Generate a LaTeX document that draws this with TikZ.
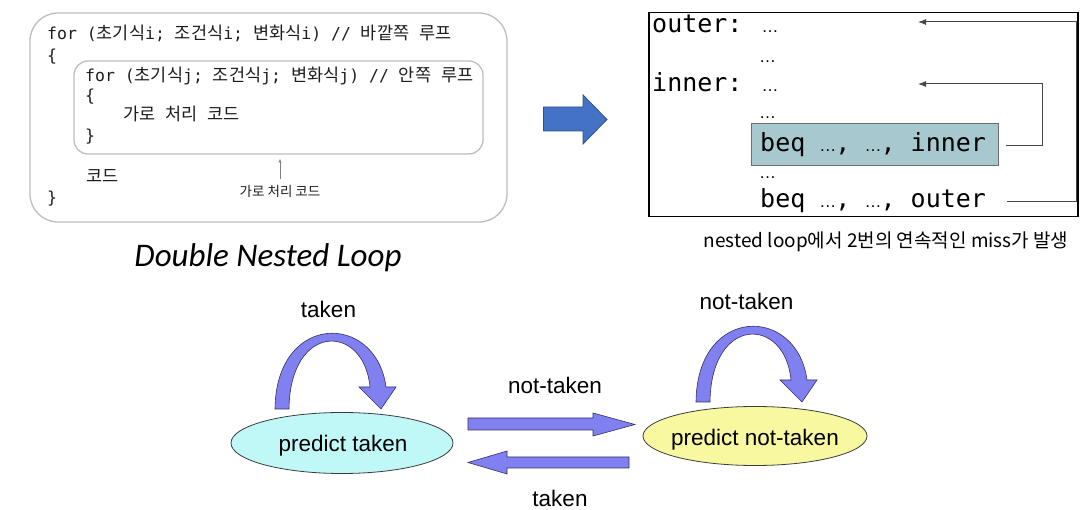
\documentclass[tikz,border=0pt]{standalone}
\usepackage{fontspec}
\setmainfont{Liberation Sans}
\newfontfamily\codefont{DejaVu Sans Mono}
\newfontfamily\krfont{Noto Sans CJK KR}
\newfontfamily\carfont{Carlito}
\usetikzlibrary{arrows.meta,shapes.geometric}
\newcommand\K[1]{{\fontsize{17.5}{20}\selectfont\krfont #1}}
\newcommand\sdots{\makebox[0.602em][c]{\fontsize{17}{20}\selectfont\rmfamily …}}
\definecolor{boxgray}{RGB}{190,190,190}
\definecolor{hlfill}{RGB}{168,200,208}
\definecolor{hlborder}{RGB}{110,110,110}
\definecolor{linegray}{RGB}{70,70,70}
\definecolor{bigblue}{RGB}{68,114,196}
\definecolor{bigblueedge}{RGB}{47,82,143}
\definecolor{loopblue}{RGB}{128,128,240}
\definecolor{loopedge}{RGB}{50,50,100}
\definecolor{cyanfill}{RGB}{192,248,248}
\definecolor{yelfill}{RGB}{248,248,160}
\definecolor{elledge}{RGB}{60,60,60}
\definecolor{codeink}{RGB}{30,30,30}
\tikzset{
  codeline/.style={anchor=base west, inner sep=0pt, text=codeink, font=\fontsize{16.5}{20}\selectfont\codefont},
  asmline/.style={anchor=base west, inner sep=0pt, font=\fontsize{25}{30}\selectfont\codefont},
  lbl/.style={anchor=base, inner sep=0pt, font=\fontsize{22.5}{27}\selectfont},
  roundbox/.style={draw=boxgray, line width=1.3pt, inner sep=0pt},
  state/.style={ellipse, draw=elledge, line width=0.8pt, inner sep=0pt},
  blockarrow/.style={fill=loopblue, draw=loopedge, line width=0.6pt, line join=miter},
  loopline/.style={draw=linegray, line width=1pt, -{Latex[length=8pt,width=6pt]}},
}
\begin{document}
\begin{tikzpicture}[x=1pt,y=-1pt]
\useasboundingbox (0,0) rectangle (1088,510);
\fill[white] (0,0) rectangle (1088,510);

% ---------- left: nested loop code ----------
\node[roundbox, rounded corners=28pt, minimum width=477pt, minimum height=209pt] (obox) at (268.5,117.5) {};
\node[roundbox, rounded corners=14pt, minimum width=409pt, minimum height=93pt] (ibox) at (278.5,107.5) {};

\node[codeline] (l1) at (47,40) {for (\K{초기식}i; \K{조건식}i; \K{변화식}i) // \K{바깥쪽} \K{루프}};
\node[codeline] (l2) at (47,62) {\{};
\node[codeline] (l3) at (85,82) {for (\K{초기식}j; \K{조건식}j; \K{변화식}j) // \K{안쪽} \K{루프}};
\node[codeline] (l4) at (85,102) {\{};
\node[codeline] (l5) at (123,121) {\K{가로} \K{처리} \K{코드}};
\node[codeline] (l6) at (85,142) {\}};
\node[codeline] (l7) at (86,183) {\K{코드}};
\node[codeline] (l8) at (47,204) {\}};

\node[inner sep=0pt, text=codeink, font=\fontsize{13.5}{16}\selectfont\krfont] (sub) at (280,191) {가로 처리 코드};
\coordinate (subtip) at (280,159);
\draw[draw=gray, line width=0.6pt, -{Stealth[length=4pt,width=3pt]}] ([yshift=6pt]sub.north) -- (subtip);

\node[anchor=base, inner sep=0pt, font=\fontsize{33}{38}\selectfont\carfont\itshape] (title) at (268,267) {Double Nested Loop};

% ---------- big blue arrow ----------
\draw[fill=bigblue, draw=bigblueedge, line width=0.8pt, line join=miter]
  (543.5,107) -- (583,107) -- (583,95) -- (607,119.5) -- (583,144) -- (583,131) -- (543.5,131) -- cycle;

% ---------- right: assembly ----------
\node[draw=black, line width=1.2pt, minimum width=429pt, minimum height=204pt, inner sep=0pt] (cbox) at (863.5,114.7) {};
\node[draw=hlborder, fill=hlfill, line width=0.8pt, minimum width=247pt, minimum height=42pt, inner sep=0pt] (hl) at (874.5,144) {};

\node[asmline] (a1) at (652,33) {outer: \sdots};
\node[asmline] (a2) at (760,63) {\sdots};
\node[asmline] (a3) at (652,92) {inner: \sdots};
\node[asmline] (a4) at (760,119) {\sdots};
\node[asmline] (a5) at (760,152) {beq \sdots, \sdots, inner};
\node[asmline] (a6) at (760,179) {\sdots};
\node[asmline] (a7) at (760,208) {beq \sdots, \sdots, outer};

\coordinate (otip) at (918,22);
\coordinate (itip) at (918,84);
\draw[loopline] ([xshift=8pt,yshift=-2pt]hl.east) -| (1042,84) -- (itip);
\draw[loopline] ([xshift=21pt]a7.east) -| (1076,22) -- (otip);

\node[anchor=base, inner sep=0pt, font=\fontsize{19}{22}\selectfont\krfont] (cap) at (886,248) {nested loop에서 2번의 연속적인 miss가 발생};

% ---------- bottom: state machine ----------
\node[state, fill=cyanfill, minimum width=222pt, minimum height=61pt] (pt) at (342,443) {};
\node[state, fill=yelfill, minimum width=224pt, minimum height=59pt] (pnt) at (755,436) {};
\node[lbl] (ptlbl) at (343,452) {predict taken};
\node[lbl] (pntlbl) at (755,446) {predict not-taken};

\node[lbl] (tk1) at (328.5,318) {taken};
\node[lbl] (ntk1) at (746.5,310) {not-taken};
\node[lbl] (ntk2) at (555,394) {not-taken};
\node[lbl] (tk2) at (560,507) {taken};

% self loops
\foreach \dx/\dy in {0/0, 421/-7}{
  \begin{scope}[shift={(\dx,\dy)}]
    \draw[blockarrow]
      (275,409) .. controls (276,312) and (376,312) .. (386,387)
      -- (396,387) -- (381,409) -- (359,387) -- (370,387)
      .. controls (364,323) and (290,322) .. (289,409) -- cycle;
  \end{scope}
}

% transitions
\draw[blockarrow] (468,418) -- (593,418) -- (593,413) -- (635,424.5) -- (593,436) -- (593,430) -- (468,430) -- cycle;
\draw[blockarrow] (629,457) -- (507,457) -- (507,451) -- (468,462.5) -- (507,474) -- (507,468) -- (629,468) -- cycle;
\end{tikzpicture}
\end{document}
